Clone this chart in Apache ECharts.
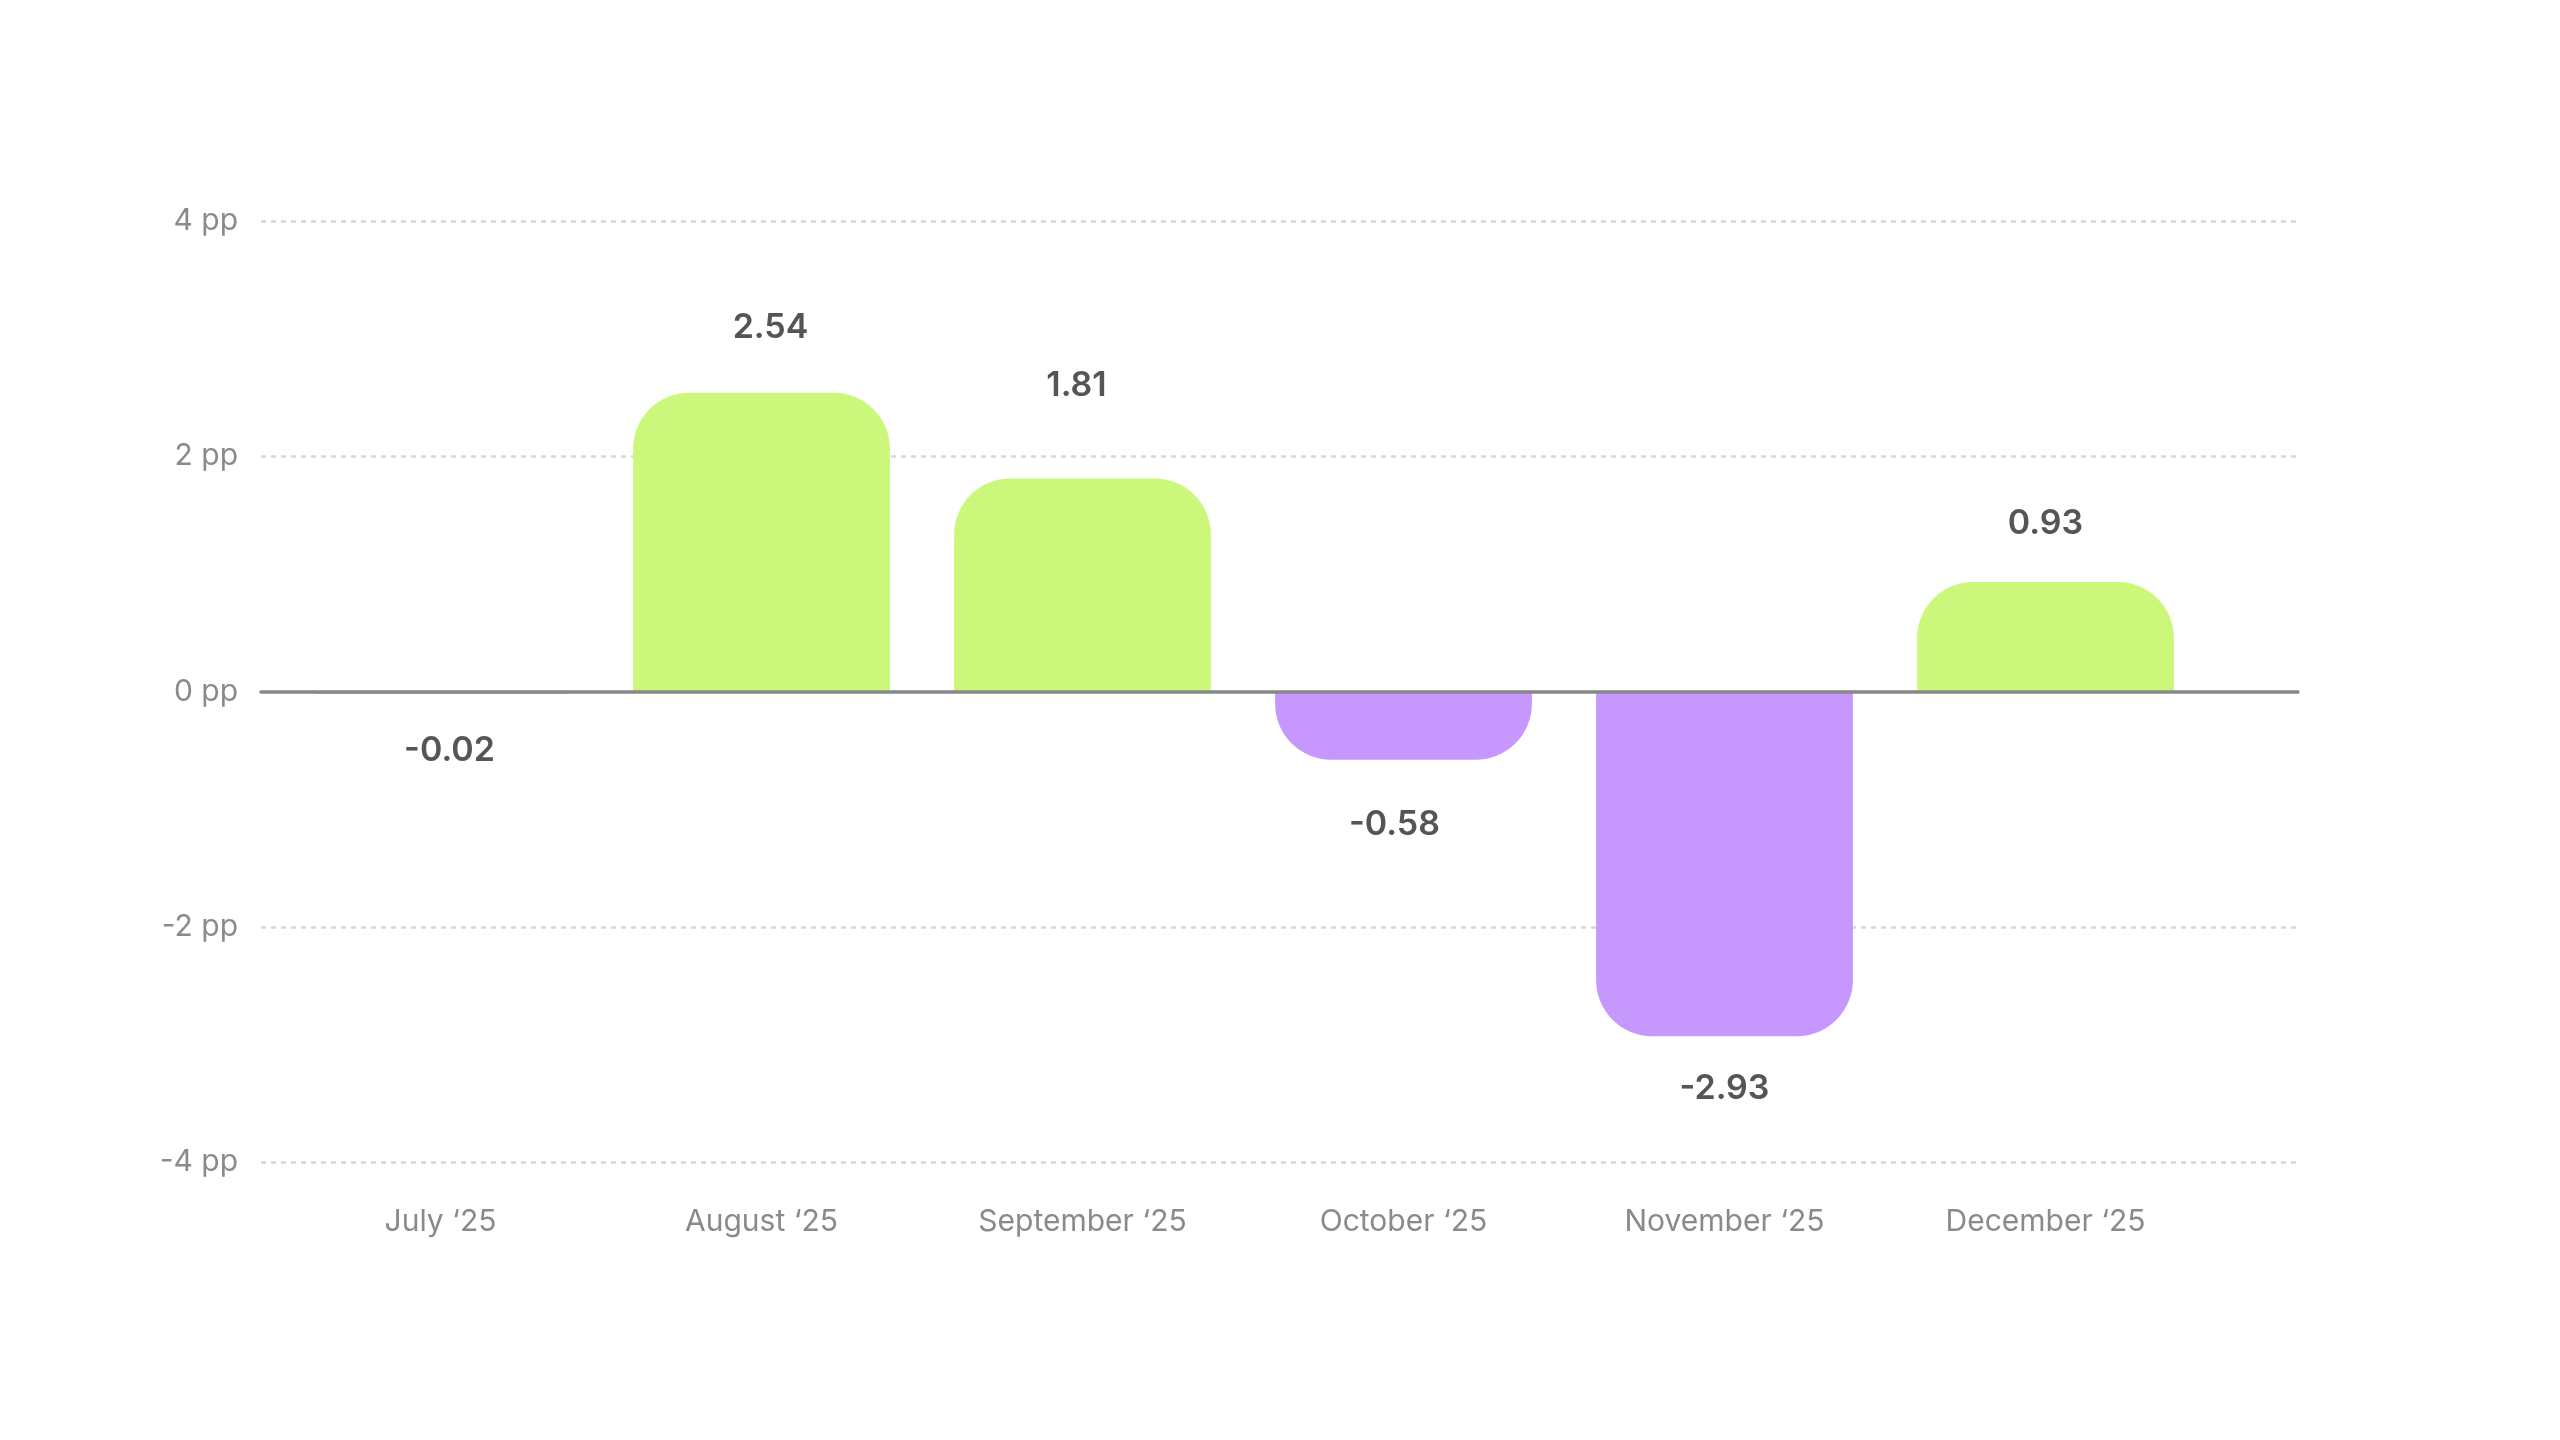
<!DOCTYPE html>
<html>
<head>
<meta charset="utf-8">
<script src="https://cdn.jsdelivr.net/npm/echarts@6/dist/echarts.min.js"></script>
<style>
html,body{margin:0;padding:0;background:#fff;}
#chart{width:2560px;height:1440px;}
</style>
</head>
<body>
<div id="chart"></div>
<script>
const categories = ['July \u201825', 'August \u201825', 'September \u201825', 'October \u201825', 'November \u201825', 'December \u201825'];
const values = [-0.02, 2.54, 1.81, -0.58, -2.93, 0.93];
const yTicks = { min: -4, max: 4, interval: 2, unit: ' pp' };

// label styling nudges (distance from bar end, horizontal offset)
const labelGap = [40, 48, 76, 48, 36, 41];
const labelDx = [9, 9, -6, -9, 0, 0];

const GREEN = '#cbf87b';
const PURPLE = '#c697fc';
const FONT = 'Inter';

const chart = echarts.init(document.getElementById('chart'), null, { renderer: 'canvas' });

const barData = values.map((v, i) => ({
  value: v,
  itemStyle: {
    color: v >= 0 ? GREEN : PURPLE,
    borderRadius: v >= 0 ? [56, 56, 0, 0] : [0, 0, 56, 56]
  },
  label: {
    position: v >= 0 ? 'top' : 'bottom',
    distance: labelGap[i],
    offset: [labelDx[i], 0]
  }
}));

const option = {
  backgroundColor: '#ffffff',
  animation: false,
  textStyle: { fontFamily: FONT },
  grid: [
    { left: 261, right: 262, top: 221, bottom: 278, containLabel: false },
    { left: 280, width: 1926, top: 221, bottom: 278, containLabel: false }
  ],
  xAxis: [
    {
      gridIndex: 0, type: 'value', min: 0, max: 1, z: 10,
      axisLine: { show: true, onZero: true, lineStyle: { color: '#888888', width: 3.5 } },
      axisTick: { show: false }, axisLabel: { show: false }, splitLine: { show: false }
    },
    {
      gridIndex: 1, type: 'category', data: categories,
      axisLine: { show: false, onZero: false }, axisTick: { show: false },
      position: 'bottom',
      axisLabel: { color: '#8a8a8a', fontSize: 30, fontFamily: FONT, margin: 45 },
      splitLine: { show: false }
    }
  ],
  yAxis: [
    {
      gridIndex: 0, type: 'value', min: yTicks.min, max: yTicks.max, interval: yTicks.interval,
      axisLine: { show: false }, axisTick: { show: false },
      axisLabel: { color: '#8a8a8a', fontSize: 30, fontFamily: FONT, margin: 23,
        formatter: v => v + yTicks.unit },
      splitLine: { show: true, lineStyle: { color: '#d6d6d6', width: 2.5, type: [5, 5] } }
    },
    {
      gridIndex: 1, type: 'value', min: yTicks.min, max: yTicks.max, interval: yTicks.interval,
      show: false, splitLine: { show: false }
    }
  ],
  series: [
    {
      type: 'bar',
      xAxisIndex: 1, yAxisIndex: 1,
      data: barData,
      barCategoryGap: '20%',
      z: 5,
      label: {
        show: true,
        color: '#555555',
        fontSize: 34,
        fontWeight: 600,
        fontFamily: FONT,
        formatter: p => p.value.toFixed(2)
      }
    }
  ]
};
chart.setOption(option);
</script>
</body>
</html>
